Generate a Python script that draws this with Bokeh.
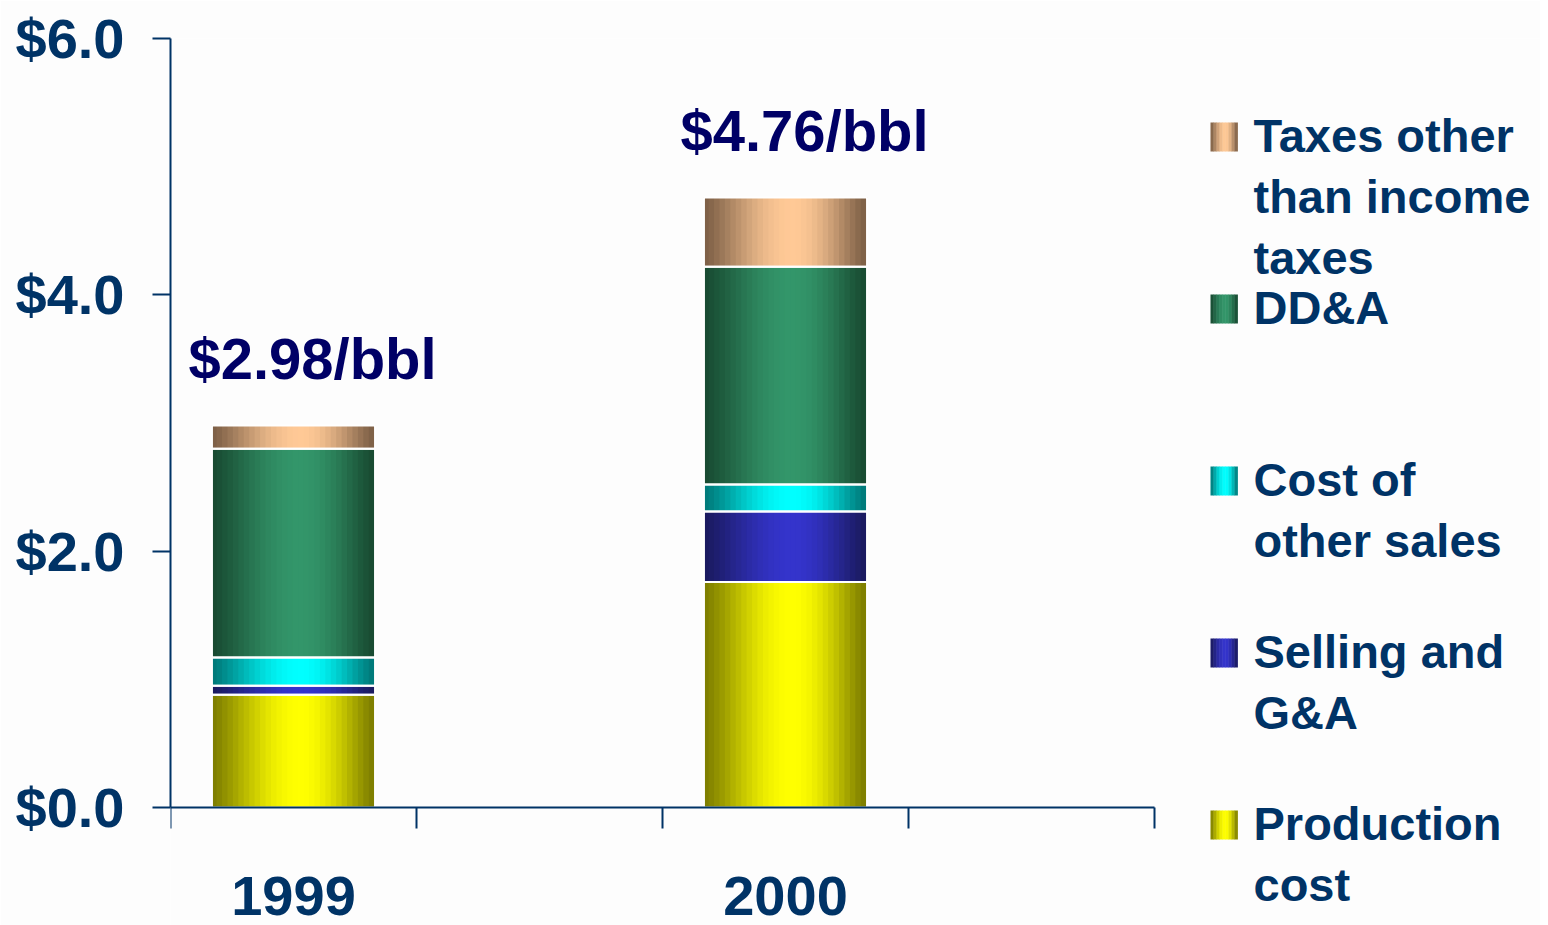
import numpy as np
from bokeh.plotting import figure
from bokeh.models import Range1d, FixedTicker, NumeralTickFormatter
from bokeh.embed import file_html
from bokeh.resources import INLINE
from bokeh.core.properties import value

# ---------------- data ----------------
years = ["1999", "2000"]
series = ["Production cost", "Selling and G&A", "Cost of other sales", "DD&A",
          "Taxes other than income taxes"]
production = [0.88, 1.76]
selling = [0.07, 0.55]
cost_other = [0.22, 0.21]
dda = [1.63, 1.70]
taxes = [0.18, 0.54]
legend_labels = ["Taxes other\nthan income\ntaxes", "DD&A", "Cost of\nother sales",
                 "Selling and\nG&A", "Production\ncost"]
y_ticks = [0, 2, 4, 6]

# ---------------- style / layout ----------------
FONT_NAME = "Liberation Sans"
FONT = value(FONT_NAME)
TXT = "#003366"
BG = "#fdfdfd"
edge_colors = ["#7d7d00", "#1a1a5e", "#007878", "#184a31", "#7d5f46"]
peak_colors = ["#ffff00", "#3434cc", "#00ffff", "#33966a", "#ffc996"]

W, H = 1540, 925
FRAME_L, FRAME_T = 170, 38
SLOTS_PX = 984      # pixel width of the category slots
Y_PX = 769          # pixel height of the $0-$6 span
Y_MAX = 6


def hex2rgb(h):
    h = h.lstrip("#")
    return np.array([int(h[i:i + 2], 16) for i in (0, 2, 4)], dtype=float)


def grad(edge, peak, u):
    t = u / 0.55 if u < 0.55 else (1 - u) / 0.45
    f = np.sin(max(0.0, min(1.0, t)) * np.pi / 2) ** 1.3
    c = hex2rgb(edge) + (hex2rgb(peak) - hex2rgb(edge)) * f
    return "#%02x%02x%02x" % tuple(int(round(v)) for v in c)


values = [production, selling, cost_other, dda, taxes]
n_cat = len(years)
n_slots = 2 * n_cat
xc = [2 * i + 0.5 for i in range(n_cat)]          # each year in a slot, followed by a blank slot
bar_w = 0.663
N = 30

sx, sb, st, sc = [], [], [], []
ox, ob, ot = [], [], []
for i in range(n_cat):
    base = 0.0
    for j, vals in enumerate(values):
        top = base + vals[i]
        for k in range(N):
            u = (k + 0.5) / N
            sx.append(xc[i] + (u - 0.5) * bar_w)
            sb.append(base)
            st.append(top)
            sc.append(grad(edge_colors[j], peak_colors[j], u))
        ox.append(xc[i]); ob.append(base); ot.append(top)
        base = top

totals = [sum(v[i] for v in values) for i in range(n_cat)]

x_end = n_slots * (W - FRAME_L) / SLOTS_PX
y_start = Y_MAX - Y_MAX * (H - FRAME_T) / Y_PX

p = figure(width=W, height=H, x_range=Range1d(0, x_end), y_range=Range1d(y_start, Y_MAX),
           output_backend="svg", toolbar_location=None,
           min_border_left=FRAME_L, min_border_right=0, min_border_top=FRAME_T,
           min_border_bottom=0)
p.background_fill_color = BG
p.border_fill_color = BG
p.outline_line_color = None
p.xgrid.visible = False
p.ygrid.visible = False
p.extra_x_ranges = {"px": Range1d(FRAME_L, W)}
p.extra_y_ranges = {"py": Range1d(H, FRAME_T)}

p.vbar(x=sx, bottom=sb, top=st, width=bar_w / N * 1.3, fill_color=sc, line_color=None)
p.vbar(x=ox, bottom=ob, top=ot, width=bar_w, fill_color=None, line_color="white", line_width=2)

p.text(x=xc, y=totals, text=["$%.2f/bbl" % t for t in totals], text_font=FONT,
       text_font_style="bold", text_font_size="58px", text_color="#000066",
       text_align="center", text_baseline="alphabetic", x_offset=19, y_offset=-67)

# x axis (sits at $0)
xa = p.xaxis[0]
xa.fixed_location = 0
xa.bounds = (0, n_slots)
xa.ticker = FixedTicker(ticks=xc, minor_ticks=list(range(n_slots + 1)))
xa.major_label_overrides = {x: yr for x, yr in zip(xc, years)}
xa.major_label_standoff = 48
xa.major_label_text_font = FONT_NAME
xa.major_label_text_font_style = "bold"
xa.major_label_text_font_size = "56px"
xa.major_label_text_color = TXT
xa.major_tick_out = 0
xa.major_tick_in = 0
xa.minor_tick_out = 21
xa.minor_tick_in = 0
xa.minor_tick_line_color = TXT
xa.minor_tick_line_width = 2
xa.axis_line_color = TXT
xa.axis_line_width = 2

# y axis
ya = p.yaxis[0]
ya.bounds = (0, Y_MAX)
ya.ticker = FixedTicker(ticks=y_ticks)
ya.formatter = NumeralTickFormatter(format="$0.0")
ya.major_tick_out = 18
ya.major_tick_in = 0
ya.minor_tick_out = 0
ya.minor_tick_in = 0
ya.major_tick_line_color = TXT
ya.major_tick_line_width = 2
ya.axis_line_color = TXT
ya.axis_line_width = 2
ya.major_label_standoff = 28
ya.major_label_text_font = FONT_NAME
ya.major_label_text_font_style = "bold"
ya.major_label_text_font_size = "56px"
ya.major_label_text_color = TXT

# ---------------- legend (pixel ranges) ----------------
leg_series_idx = [4, 3, 2, 1, 0]
NS = 9
ql, qr, qt, qb, qc = [], [], [], [], []
tx, ty, tt = [], [], []
for r, j in enumerate(leg_series_idx):
    baseline = 153 + r * 172
    for k in range(NS):
        u = (k + 0.5) / NS
        ql.append(1210 + k * 27 / NS); qr.append(1210 + (k + 1) * 27 / NS + 0.4)
        qt.append(baseline - 31); qb.append(baseline - 2)
        qc.append(grad(edge_colors[j], peak_colors[j], u))
    for m, line in enumerate(legend_labels[r].split("\n")):
        tx.append(1253); ty.append(baseline - 18 + m * 61); tt.append(line)

p.quad(left=ql, right=qr, top=qt, bottom=qb, fill_color=qc, line_color=None,
       x_range_name="px", y_range_name="py")
p.text(x=tx, y=ty, text=tt, text_font=FONT, text_font_style="bold", text_font_size="47px",
       text_color=TXT, text_align="left", text_baseline="alphabetic",
       x_range_name="px", y_range_name="py")

open("out.html", "w").write(file_html(p, INLINE))
